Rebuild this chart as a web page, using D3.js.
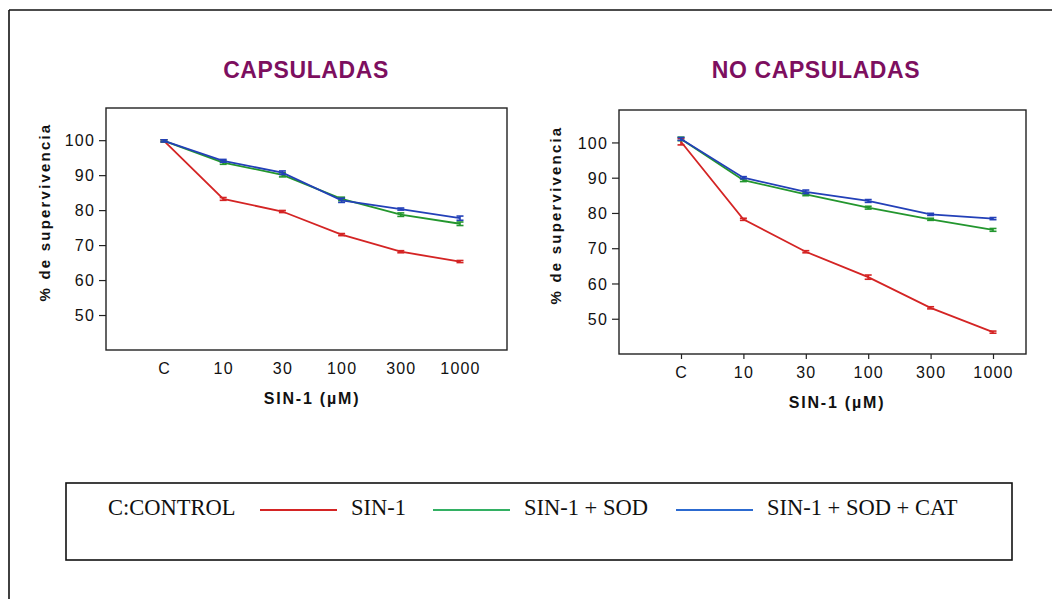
<!DOCTYPE html>
<html>
<head>
<meta charset="utf-8">
<script src="https://cdn.jsdelivr.net/npm/d3@7"></script>
<style>
  body { margin: 0; background: #fff; }
  svg { display: block; }
  .tick text { font-family: "Liberation Sans", Arial, sans-serif; font-size: 16px; letter-spacing: 1.2px; fill: #111; }
  .tick line { stroke: #222; stroke-width: 1.2; }
</style>
</head>
<body>
<div id="chart"></div>
<script>
// dose categories and y ticks
const doses = ["C", "10", "30", "100", "300", "1000"];
const yTicks = [50, 60, 70, 80, 90, 100];

// CAPSULADAS
const capSin1 = [99.8, 83.2, 79.6, 73.0, 68.1, 65.3];
const capSod = [99.8, 93.6, 90.1, 83.2, 78.7, 76.1];
const capSodCat = [99.8, 94.1, 90.7, 82.8, 80.3, 77.7];
const capSin1Err = [0.3, 0.4, 0.3, 0.3, 0.3, 0.3];
const capSodErr = [0.3, 0.5, 0.6, 0.5, 0.5, 0.5];
const capSodCatErr = [0.3, 0.4, 0.5, 0.6, 0.3, 0.6];

// NO CAPSULADAS
const noSin1 = [100.2, 78.2, 69.0, 61.8, 53.1, 46.2];
const noSod = [101.0, 89.3, 85.3, 81.5, 78.2, 75.2];
const noSodCat = [101.0, 90.0, 86.0, 83.4, 79.6, 78.4];
const noSin1Err = [0.9, 0.3, 0.3, 0.6, 0.3, 0.3];
const noSodErr = [0.5, 0.4, 0.4, 0.4, 0.3, 0.4];
const noSodCatErr = [0.4, 0.3, 0.5, 0.4, 0.3, 0.3];

const seriesNames = ["SIN-1", "SIN-1 + SOD", "SIN-1 + SOD + CAT"];
const lineColors = ["#d42424", "#23962e", "#2340b8"];
const legendColors = ["#d42424", "#33b063", "#2c6ad0"];

const W = 1052, H = 599;
const svg = d3.select("#chart").append("svg")
    .attr("width", W)
    .attr("height", H);

// outer frame (top + left only visible)
svg.append("line").attr("x1", 9).attr("x2", W).attr("y1", 10).attr("y2", 10)
    .attr("stroke", "#111").attr("stroke-width", 1.6);
svg.append("line").attr("x1", 9).attr("x2", 9).attr("y1", 10).attr("y2", H)
    .attr("stroke", "#111").attr("stroke-width", 1.6);

const panels = [
    {title: "CAPSULADAS", box: [106, 108, 507, 350], xr: [164, 460], xTicks: false,
     titleX: 306, yLabelX: 45,
     series: [[capSin1, capSin1Err], [capSod, capSodErr], [capSodCat, capSodCatErr]]},
    {title: "NO CAPSULADAS", box: [619, 110, 1026, 354], xr: [681, 993], xTicks: true,
     titleX: 816, yLabelX: 556,
     series: [[noSin1, noSin1Err], [noSod, noSodErr], [noSodCat, noSodCatErr]]}
];

panels.forEach(p => {
    const [x0, y0, x1, y1] = p.box;
    const x = d3.scalePoint().domain(doses).range(p.xr);
    const y = d3.scaleLinear().domain([40, 109.2]).range([y1, y0]);
    const g = svg.append("g");

    g.append("text")
        .attr("x", p.titleX).attr("y", 78)
        .attr("text-anchor", "middle")
        .style("font-family", "'Liberation Sans', Arial, sans-serif")
        .style("font-size", "23px").style("font-weight", "bold")
        .style("letter-spacing", "0.6px")
        .attr("fill", "#7d0f5f")
        .text(p.title);

    g.append("rect")
        .attr("x", x0).attr("y", y0)
        .attr("width", x1 - x0).attr("height", y1 - y0)
        .attr("fill", "none").attr("stroke", "#222").attr("stroke-width", 1.4);

    const yAxis = g.append("g")
        .attr("transform", `translate(${x0},0)`)
        .call(d3.axisLeft(y).tickValues(yTicks).tickSize(7).tickPadding(4));
    yAxis.select(".domain").remove();
    yAxis.selectAll(".tick text").attr("dy", "0.36em");

    const xAxis = g.append("g")
        .attr("transform", `translate(0,${y1})`)
        .call(d3.axisBottom(x).tickSize(p.xTicks ? 5 : 0).tickPadding(p.xTicks ? 8 : 13));
    xAxis.select(".domain").remove();

    g.append("text")
        .attr("transform", `translate(${p.yLabelX},${(y0 + y1) / 2 - 17}) rotate(-90)`)
        .attr("text-anchor", "middle")
        .attr("dy", "0.35em")
        .style("font-family", "'Liberation Sans', Arial, sans-serif")
        .style("font-size", "15px").style("font-weight", "bold")
        .style("letter-spacing", "2.2px")
        .attr("fill", "#111")
        .text("% de supervivencia");

    g.append("text")
        .attr("x", (p.xr[0] + p.xr[1]) / 2).attr("y", y1 + 54)
        .attr("text-anchor", "middle")
        .style("font-family", "'Liberation Sans', Arial, sans-serif")
        .style("font-size", "16px").style("font-weight", "bold")
        .style("letter-spacing", "1.8px")
        .attr("fill", "#111")
        .text("SIN-1 (\u00b5M)");

    const line = d3.line().x((d, i) => x(doses[i])).y(d => y(d));

    p.series.forEach(([vals, errs], si) => {
        g.append("path")
            .datum(vals)
            .attr("d", line)
            .attr("fill", "none")
            .attr("stroke", lineColors[si])
            .attr("stroke-width", 1.8);

        const eb = g.append("g").attr("stroke", lineColors[si]).attr("stroke-width", 1.6);
        vals.forEach((v, i) => {
            const cx = x(doses[i]);
            eb.append("line").attr("x1", cx).attr("x2", cx)
                .attr("y1", y(v - errs[i])).attr("y2", y(v + errs[i]));
            [v - errs[i], v + errs[i]].forEach(e => {
                eb.append("line").attr("x1", cx - 3.5).attr("x2", cx + 3.5)
                    .attr("y1", y(e)).attr("y2", y(e));
            });
        });
    });
});

// legend
const lg = svg.append("g");
lg.append("rect")
    .attr("x", 66).attr("y", 483).attr("width", 946).attr("height", 77)
    .attr("fill", "none").attr("stroke", "#111").attr("stroke-width", 1.6);

const legendFont = "'Liberation Serif', 'Times New Roman', serif";
lg.append("text").attr("x", 108).attr("y", 515)
    .style("font-family", legendFont).style("font-size", "22.5px")
    .attr("fill", "#111").text("C:CONTROL");

const legendLineX = [260, 433, 676];
legendLineX.forEach((lx, i) => {
    lg.append("line").attr("x1", lx).attr("x2", lx + 77).attr("y1", 510).attr("y2", 510)
        .attr("stroke", legendColors[i]).attr("stroke-width", 2.2);
    lg.append("text").attr("x", lx + 91).attr("y", 515)
        .style("font-family", legendFont).style("font-size", "22.5px")
        .attr("fill", "#111").text(seriesNames[i]);
});
</script>
</body>
</html>
